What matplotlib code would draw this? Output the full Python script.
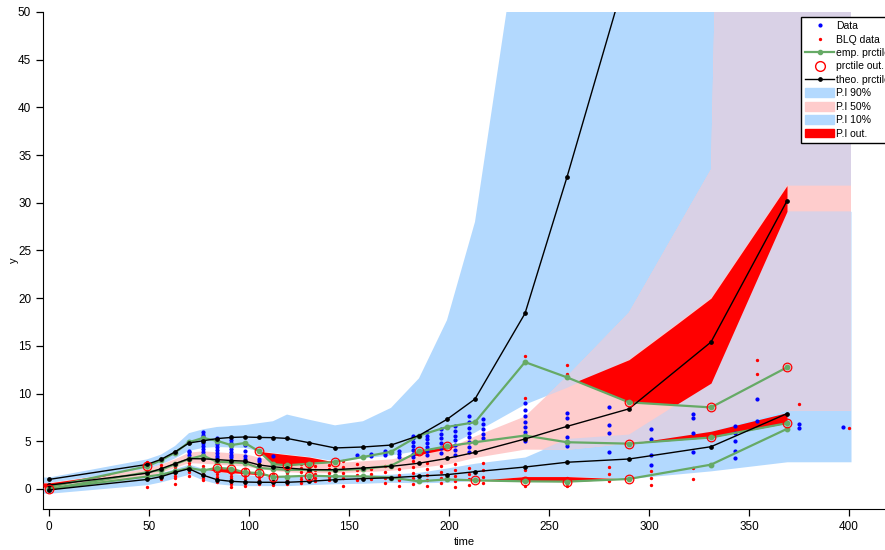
import matplotlib
matplotlib.use("Agg")
import matplotlib.pyplot as plt
from matplotlib.lines import Line2D
from matplotlib.patches import Patch

plt.rcParams["font.family"] = ["Liberation Sans", "DejaVu Sans"]

BLUE_BAND = "#b3d9fe"
PINK_BAND = "#fecccc"
LAVENDER = "#d9d1e6"
RED = "#ff0000"
GREEN = "#66aa66"

# time bins of the percentiles
bins = [0, 49, 56, 63, 70, 77, 84, 91, 98, 105, 112, 119, 130, 143, 157,
        171, 185, 199, 213, 238, 259, 290, 331, 369]

theo_p10 = [-0.1, 1.0, 1.29, 1.74, 2.12, 1.45, 0.97, 0.8, 0.73, 0.7, 0.7, 0.7,
            0.8, 0.97, 1.08, 1.18, 1.35, 1.5, 1.81, 2.3, 2.8, 3.14, 4.43, 7.9]
theo_p50 = [0.4, 1.65, 2.12, 2.65, 3.18, 3.16, 3.08, 2.98, 2.92, 2.52, 2.33, 2.2,
            2.02, 2.02, 2.2, 2.37, 2.7, 3.2, 3.84, 5.24, 6.56, 8.4, 15.4, 30.2]
theo_p90 = [1.0, 2.57, 3.1, 3.88, 4.82, 5.05, 5.28, 5.4, 5.45, 5.4, 5.38, 5.3,
            4.85, 4.3, 4.4, 4.6, 5.6, 7.3, 9.43, 18.4, 32.7, 55, 95, 160]

emp_p10 = [0.0, 1.3, 1.5, 1.85, 2.2, 1.95, 2.2, 2.12, 1.74, 1.67, 1.26, 1.3,
           1.39, 1.32, 1.32, 1.2, 0.8, 1.0, 0.9, 0.8, 0.77, 1.05, 2.55, 6.3]
emp_p50 = [0.0, 1.75, 2.0, 2.6, 3.15, 3.5, 2.85, 2.8, 2.72, 2.2, 2.1, 2.0,
           2.0, 1.95, 2.1, 2.44, 3.94, 4.47, 4.9, 5.6, 4.9, 4.75, 5.4, 6.9]
emp_p90 = [0.2, 2.37, 3.0, 3.8, 4.9, 5.35, 5.05, 4.6, 4.82, 3.94, 2.6, 2.48,
           2.65, 2.83, 3.35, 3.9, 5.6, 6.5, 7.0, 13.3, 11.7, 9.08, 8.55, 12.75]

# prediction interval nodes (bins plus the two ends)
band_t = [-3] + bins + [401]
pi90_lo = [0.63, 0.63, 2.1, 2.55, 3.2, 4.0, 4.3, 4.4, 4.35, 4.3, 3.94, 3.77, 3.6,
           3.35, 2.9, 3.2, 3.5, 4.0, 4.5, 5.9, 8.84, 10.6, 13.55, 20.0, 31.8, 31.8]
pi90_hi = [1.2, 1.2, 3.1, 3.6, 4.5, 5.85, 6.25, 6.5, 6.6, 6.7, 6.9, 7.1, 7.8,
           7.26, 6.67, 7.1, 8.5, 11.6, 17.7, 28, 63, 90, 120, 150, 200, 200]
pi50_lo = [0.05, 0.05, 1.3, 1.7, 2.2, 2.7, 2.65, 2.55, 2.45, 2.35, 2.1, 1.9, 1.75,
           1.65, 1.65, 1.75, 1.9, 2.2, 2.55, 3.25, 4.12, 4.1, 4.75, 6.05, 8.2, 8.2]
pi50_hi = [0.6, 0.6, 2.1, 2.55, 3.1, 3.8, 3.95, 3.85, 3.75, 3.65, 3.3, 3.0, 2.85,
           2.7, 2.7, 2.9, 3.1, 3.6, 4.2, 5.5, 7.6, 11.8, 18.5, 33.5, 400, 400]
pi10_lo = [-0.45, -0.45, 0.45, 0.75, 1.15, 1.55, 0.95, 0.55, 0.4, 0.35, 0.35, 0.35,
           0.35, 0.45, 0.55, 0.6, 0.7, 0.65, 0.7, 0.9, 1.3, 1.3, 1.1, 1.9, 2.85, 2.85]
pi10_hi = [0.05, 0.05, 1.3, 1.7, 2.15, 2.6, 2.15, 1.85, 1.65, 1.5, 1.4, 1.3, 1.3,
           1.3, 1.35, 1.45, 1.55, 1.75, 2.2, 2.7, 3.35, 5.24, 5.7, 11.1, 29.1, 29.1]

# areas where the empirical percentile leaves its interval
out_areas = [
    ([-3, 0, 33], [0.2, 0.2, 1.6], [0.63, 0.63, 1.6]),
    ([79, 84, 91, 98, 105, 112, 118], [2.05, 1.85, 1.7, 1.6, 1.5, 1.35, 1.3],
     [2.05, 2.3, 2.2, 1.85, 1.75, 1.4, 1.3]),
    ([105, 112, 119, 130, 143], [3.94, 2.6, 2.48, 2.65, 2.83],
     [3.94, 3.77, 3.6, 3.35, 2.83]),
    ([178, 185, 199, 206], [3.3, 3.6, 4.2, 4.65], [3.3, 3.94, 4.47, 4.65]),
    ([213, 238, 259, 290], [0.9, 0.8, 0.77, 1.05], [0.9, 1.3, 1.3, 1.05]),
    ([264, 290, 314, 331, 369], [11.3, 9.08, 8.9, 11.1, 29.1],
     [11.3, 13.55, 17.3, 20.0, 31.8]),
    ([290, 331, 369], [4.75, 5.4, 6.9], [4.75, 6.05, 8.0]),
]

out_t = [0, 49, 84, 91, 98, 105, 105, 112, 119, 130, 130, 143, 185, 199, 213,
         238, 259, 290, 290, 290, 331, 331, 369, 369]
out_y = [0.0, 2.37, 2.2, 2.12, 1.74, 1.67, 3.94, 1.26, 2.48, 1.39, 2.72, 2.83,
         3.94, 4.47, 0.9, 0.8, 0.77, 1.05, 4.75, 9.08, 8.55, 5.4, 12.75, 6.9]

# observations, one column of values per sampling time
obs_t = [70, 77, 84, 91, 98, 105, 112, 154, 161, 168, 175, 182, 189, 196, 203,
         210, 217, 238, 259, 280, 301, 322, 343, 354, 375, 397]
obs_y = [[3.6, 3.9, 4.0],
         [3.3, 3.6, 3.9, 4.2, 4.5, 4.8, 5.1, 5.4, 5.7, 6.0],
         [3.2, 3.5, 3.8, 4.1, 4.4, 4.7, 5.0, 5.3],
         [3.0, 3.3, 3.6, 3.9, 4.2, 4.5, 4.8, 5.1],
         [3.1, 3.5, 4.0, 4.6],
         [2.9, 3.1],
         [3.5],
         [3.6],
         [3.5, 3.7],
         [3.6, 3.8, 4.0],
         [3.4, 3.7, 4.0],
         [3.3, 3.7, 4.1, 4.5, 4.9, 5.3, 5.6],
         [3.6, 4.0, 4.4, 4.8, 5.2, 5.6, 6.0],
         [3.8, 4.3, 4.8, 5.3, 5.8, 6.3],
         [3.6, 4.1, 4.6, 5.1, 5.6, 6.1, 6.6],
         [3.9, 4.4, 4.9, 5.4, 5.9, 6.4, 7.0, 7.6],
         [5.3, 5.8, 6.3, 6.8, 7.3],
         [5.0, 5.5, 6.0, 6.5, 7.0, 7.6, 8.3, 9.0],
         [4.47, 5.45, 7.45, 7.97],
         [3.9, 5.9, 6.7, 8.6],
         [2.5, 3.6, 5.2, 6.3],
         [3.9, 5.9, 7.4, 7.9],
         [3.25, 3.95, 5.0, 5.9, 6.55],
         [7.1, 9.4],
         [6.4, 6.85],
         [6.5]]

# BLQ data, same layout
blq_t = [49, 56, 63, 70, 77, 84, 91, 98, 105, 112, 119, 126, 133, 140, 147,
         154, 161, 168, 175, 182, 189, 196, 203, 210, 217, 238, 259, 280, 301,
         322, 354, 375, 400]
blq_y = [[0.25, 2.3, 2.55, 2.8],
         [1.0, 1.3, 1.6, 1.9, 2.2, 2.5],
         [0.5, 1.1, 1.4, 1.7, 2.0, 2.3],
         [1.4, 1.8, 2.1, 2.4, 2.7, 3.0, 3.2],
         [0.9, 1.2, 1.5, 1.8, 2.1, 2.4],
         [0.7, 1.0, 1.3, 1.6, 1.9, 2.2],
         [0.2, 0.5, 0.8, 1.1, 1.4, 1.7, 2.0],
         [0.3, 0.6, 1.0, 1.4, 1.8, 2.1],
         [0.5, 0.9, 1.3, 1.7, 2.1, 2.6],
         [0.4, 0.8, 1.2, 1.6, 2.0, 2.4],
         [0.5, 0.9, 1.3, 1.7, 2.1, 2.5],
         [0.6, 1.0, 1.4, 1.8, 2.2, 2.6],
         [0.8, 1.2, 1.6, 2.0, 2.4],
         [0.9, 1.3, 1.7, 2.1, 2.5],
         [0.3, 1.2, 1.7, 2.3, 2.9],
         [0.9, 1.5, 2.0, 2.6],
         [1.0, 1.6, 2.1],
         [0.6, 1.2, 1.8, 2.4],
         [0.3, 0.9, 1.5, 2.1],
         [0.5, 1.1, 1.7, 2.3, 2.9],
         [0.3, 0.9, 1.5, 2.1, 2.7],
         [0.6, 1.2, 1.8, 2.4],
         [0.2, 0.8, 1.4, 2.0, 2.6],
         [0.4, 1.0, 1.6, 2.2],
         [0.6, 1.3, 2.0, 2.7],
         [0.3, 1.0, 2.0, 9.5, 13.9],
         [0.3, 1.2, 12.0, 13.0],
         [0.8, 1.6, 2.3],
         [0.4, 1.2, 1.9],
         [1.0, 2.2],
         [12.0, 13.5],
         [8.9],
         [6.4]]

fig = plt.figure(figsize=(8.85, 5.5), dpi=100)
ax = fig.add_axes([43 / 885, 41 / 550, 842 / 885, 497 / 550])

# prediction intervals, overlap of pink and blue drawn in lavender
band90 = ax.fill_between(band_t, pi90_lo, pi90_hi, color=BLUE_BAND, lw=0, zorder=1)
band10 = ax.fill_between(band_t, pi10_lo, pi10_hi, color=BLUE_BAND, lw=0, zorder=1)
ax.fill_between(band_t, pi50_lo, pi50_hi, color=PINK_BAND, lw=0, zorder=2)
for band in (band90, band10):
    over = ax.fill_between(band_t, pi50_lo, pi50_hi, color=LAVENDER, lw=0, zorder=3)
    over.set_clip_path(band.get_paths()[0], band.get_transform())

for t, lo, hi in out_areas:
    ax.fill_between(t, lo, hi, color=RED, lw=0, zorder=4)

for t, ys in zip(obs_t, obs_y):
    ax.plot([t] * len(ys), ys, ls="none", marker="o", ms=2.0, mfc="#0000ff",
            mec="#0000ff", zorder=5)
for t, ys in zip(blq_t, blq_y):
    ax.plot([t] * len(ys), ys, ls="none", marker="o", ms=1.4, mfc=RED,
            mec=RED, zorder=5)

for ys in (emp_p10, emp_p50, emp_p90):
    ax.plot(bins, ys, color=GREEN, lw=1.6, marker="o", ms=3.2, zorder=6)
for ys in (theo_p10, theo_p50, theo_p90):
    ax.plot(bins, ys, color="black", lw=1.0, marker="o", ms=2.4, zorder=7)
ax.plot(out_t, out_y, ls="none", marker="o", ms=6.2, mfc="none", mec=RED,
        mew=0.9, zorder=8)

ax.set_xlim(-3, 418)
ax.set_ylim(-2.1, 50)
ax.set_xticks(range(0, 401, 50))
ax.set_yticks(range(0, 51, 5))
for side in ("top", "right"):
    ax.spines[side].set_visible(False)
ax.tick_params(labelsize=8.5, length=5, width=0.9, direction="out")
ax.set_xlabel("time", fontsize=8, labelpad=3)
ax.set_ylabel("y", fontsize=8, labelpad=-1)

handles = [
    Line2D([], [], ls="none", marker="o", ms=2.0, color="#0000ff"),
    Line2D([], [], ls="none", marker="o", ms=1.4, color=RED),
    Line2D([], [], color=GREEN, lw=1.6, marker="o", ms=3),
    Line2D([], [], ls="none", marker="o", ms=7, mfc="none", mec=RED),
    Line2D([], [], color="black", lw=1.0, marker="o", ms=2.4),
    Patch(color=BLUE_BAND), Patch(color=PINK_BAND), Patch(color=BLUE_BAND),
    Patch(color=RED),
]
labels = ["Data", "BLQ data", "emp. prctile", "prctile out.", "theo. prctile",
          "P.I 90%", "P.I 50%", "P.I 10%", "P.I out."]
fig.legend(handles, labels, loc="upper left", bbox_to_anchor=(801 / 885, 1 - 17 / 550),
           fontsize=7.5, frameon=True, fancybox=False, edgecolor="black",
           framealpha=1, borderpad=0.4, labelspacing=0.33, handlelength=2.8,
           handleheight=0.9, handletextpad=0.2, borderaxespad=0)

fig.savefig("out.png", dpi=100)
